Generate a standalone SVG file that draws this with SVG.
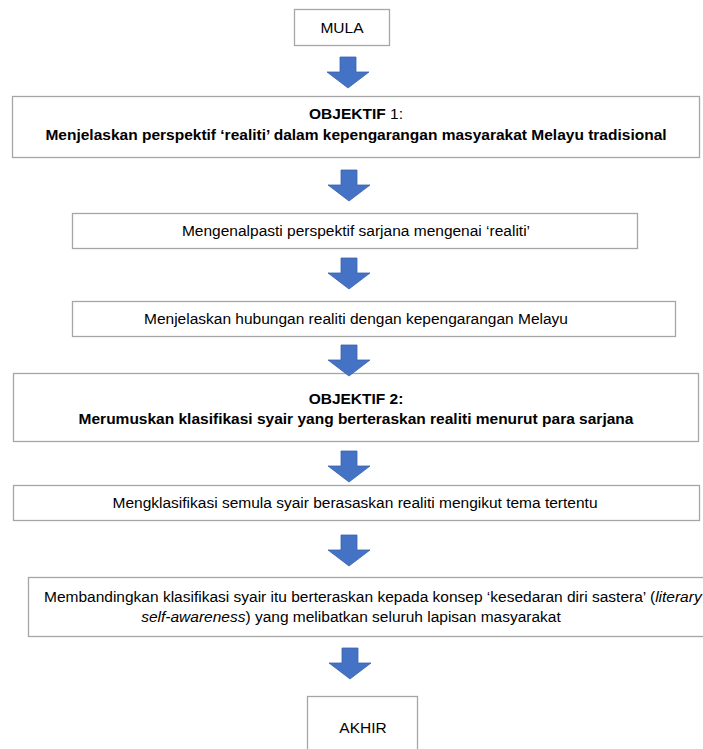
<svg xmlns="http://www.w3.org/2000/svg" width="703" height="749" viewBox="0 0 703 749">
<defs>
<style>
.box{fill:#ffffff;stroke:#a6a6a6;stroke-width:1.3}
.t{font-family:"Liberation Sans",Arial,sans-serif;font-size:15.5px;fill:#000}
.b{font-weight:bold}
.c{text-anchor:middle}
.arr{fill:#4472c4;stroke:#3a63ad;stroke-width:0.8}
</style>
<path id="ar" d="M-8,0 H8 V15 H21 L0,31 L-21,15 H-8 Z"/>
</defs>
<rect width="703" height="749" fill="#fff"/>
<g id="mula"><rect class="box" x="294.5" y="9.5" width="95" height="36"/><text class="t c" x="342" y="33">MULA</text></g>
<g id="obj1"><rect class="box" x="12.5" y="96.5" width="687" height="61"/>
<text class="t c" x="356" y="119"><tspan class="b">OBJEKTIF</tspan> 1:</text>
<text class="t b c" x="356" y="140">Menjelaskan perspektif ‘realiti’ dalam kepengarangan masyarakat Melayu tradisional</text></g>
<g id="kenal"><rect class="box" x="72.5" y="213.5" width="565" height="35"/>
<text class="t c" x="356" y="236">Mengenalpasti perspektif sarjana mengenai ‘realiti’</text></g>
<g id="hubungan"><rect class="box" x="72.5" y="301.5" width="603" height="35"/>
<text class="t c" x="356" y="324">Menjelaskan hubungan realiti dengan kepengarangan Melayu</text></g>
<g id="obj2"><rect class="box" x="13.5" y="373.5" width="685" height="68"/>
<text class="t b c" x="356" y="404">OBJEKTIF 2:</text>
<text class="t b c" x="356" y="424">Merumuskan klasifikasi syair yang berteraskan realiti menurut para sarjana</text></g>
<g id="klasifikasi"><rect class="box" x="13.5" y="485.5" width="686" height="35"/>
<text class="t c" x="355" y="508">Mengklasifikasi semula syair berasaskan realiti mengikut tema tertentu</text></g>
<g id="banding"><rect class="box" x="28.5" y="577.5" width="690" height="59"/>
<text class="t" x="44" y="602">Membandingkan klasifikasi syair itu berteraskan kepada konsep ‘kesedaran diri sastera’ (<tspan font-style="italic">literary</tspan></text>
<text class="t c" x="351" y="622"><tspan font-style="italic">self-awareness</tspan>) yang melibatkan seluruh lapisan masyarakat</text></g>
<g id="akhir"><rect class="box" x="307.5" y="696.5" width="110" height="70"/><text class="t c" x="363" y="733">AKHIR</text></g>
<g id="connectors">
<use href="#ar" class="arr" x="348" y="57"/>
<use href="#ar" class="arr" x="349" y="170"/>
<use href="#ar" class="arr" x="349" y="258"/>
<use href="#ar" class="arr" x="349" y="345"/>
<use href="#ar" class="arr" x="349" y="451"/>
<use href="#ar" class="arr" x="349" y="535"/>
<use href="#ar" class="arr" x="350" y="648"/>
</g>
</svg>
